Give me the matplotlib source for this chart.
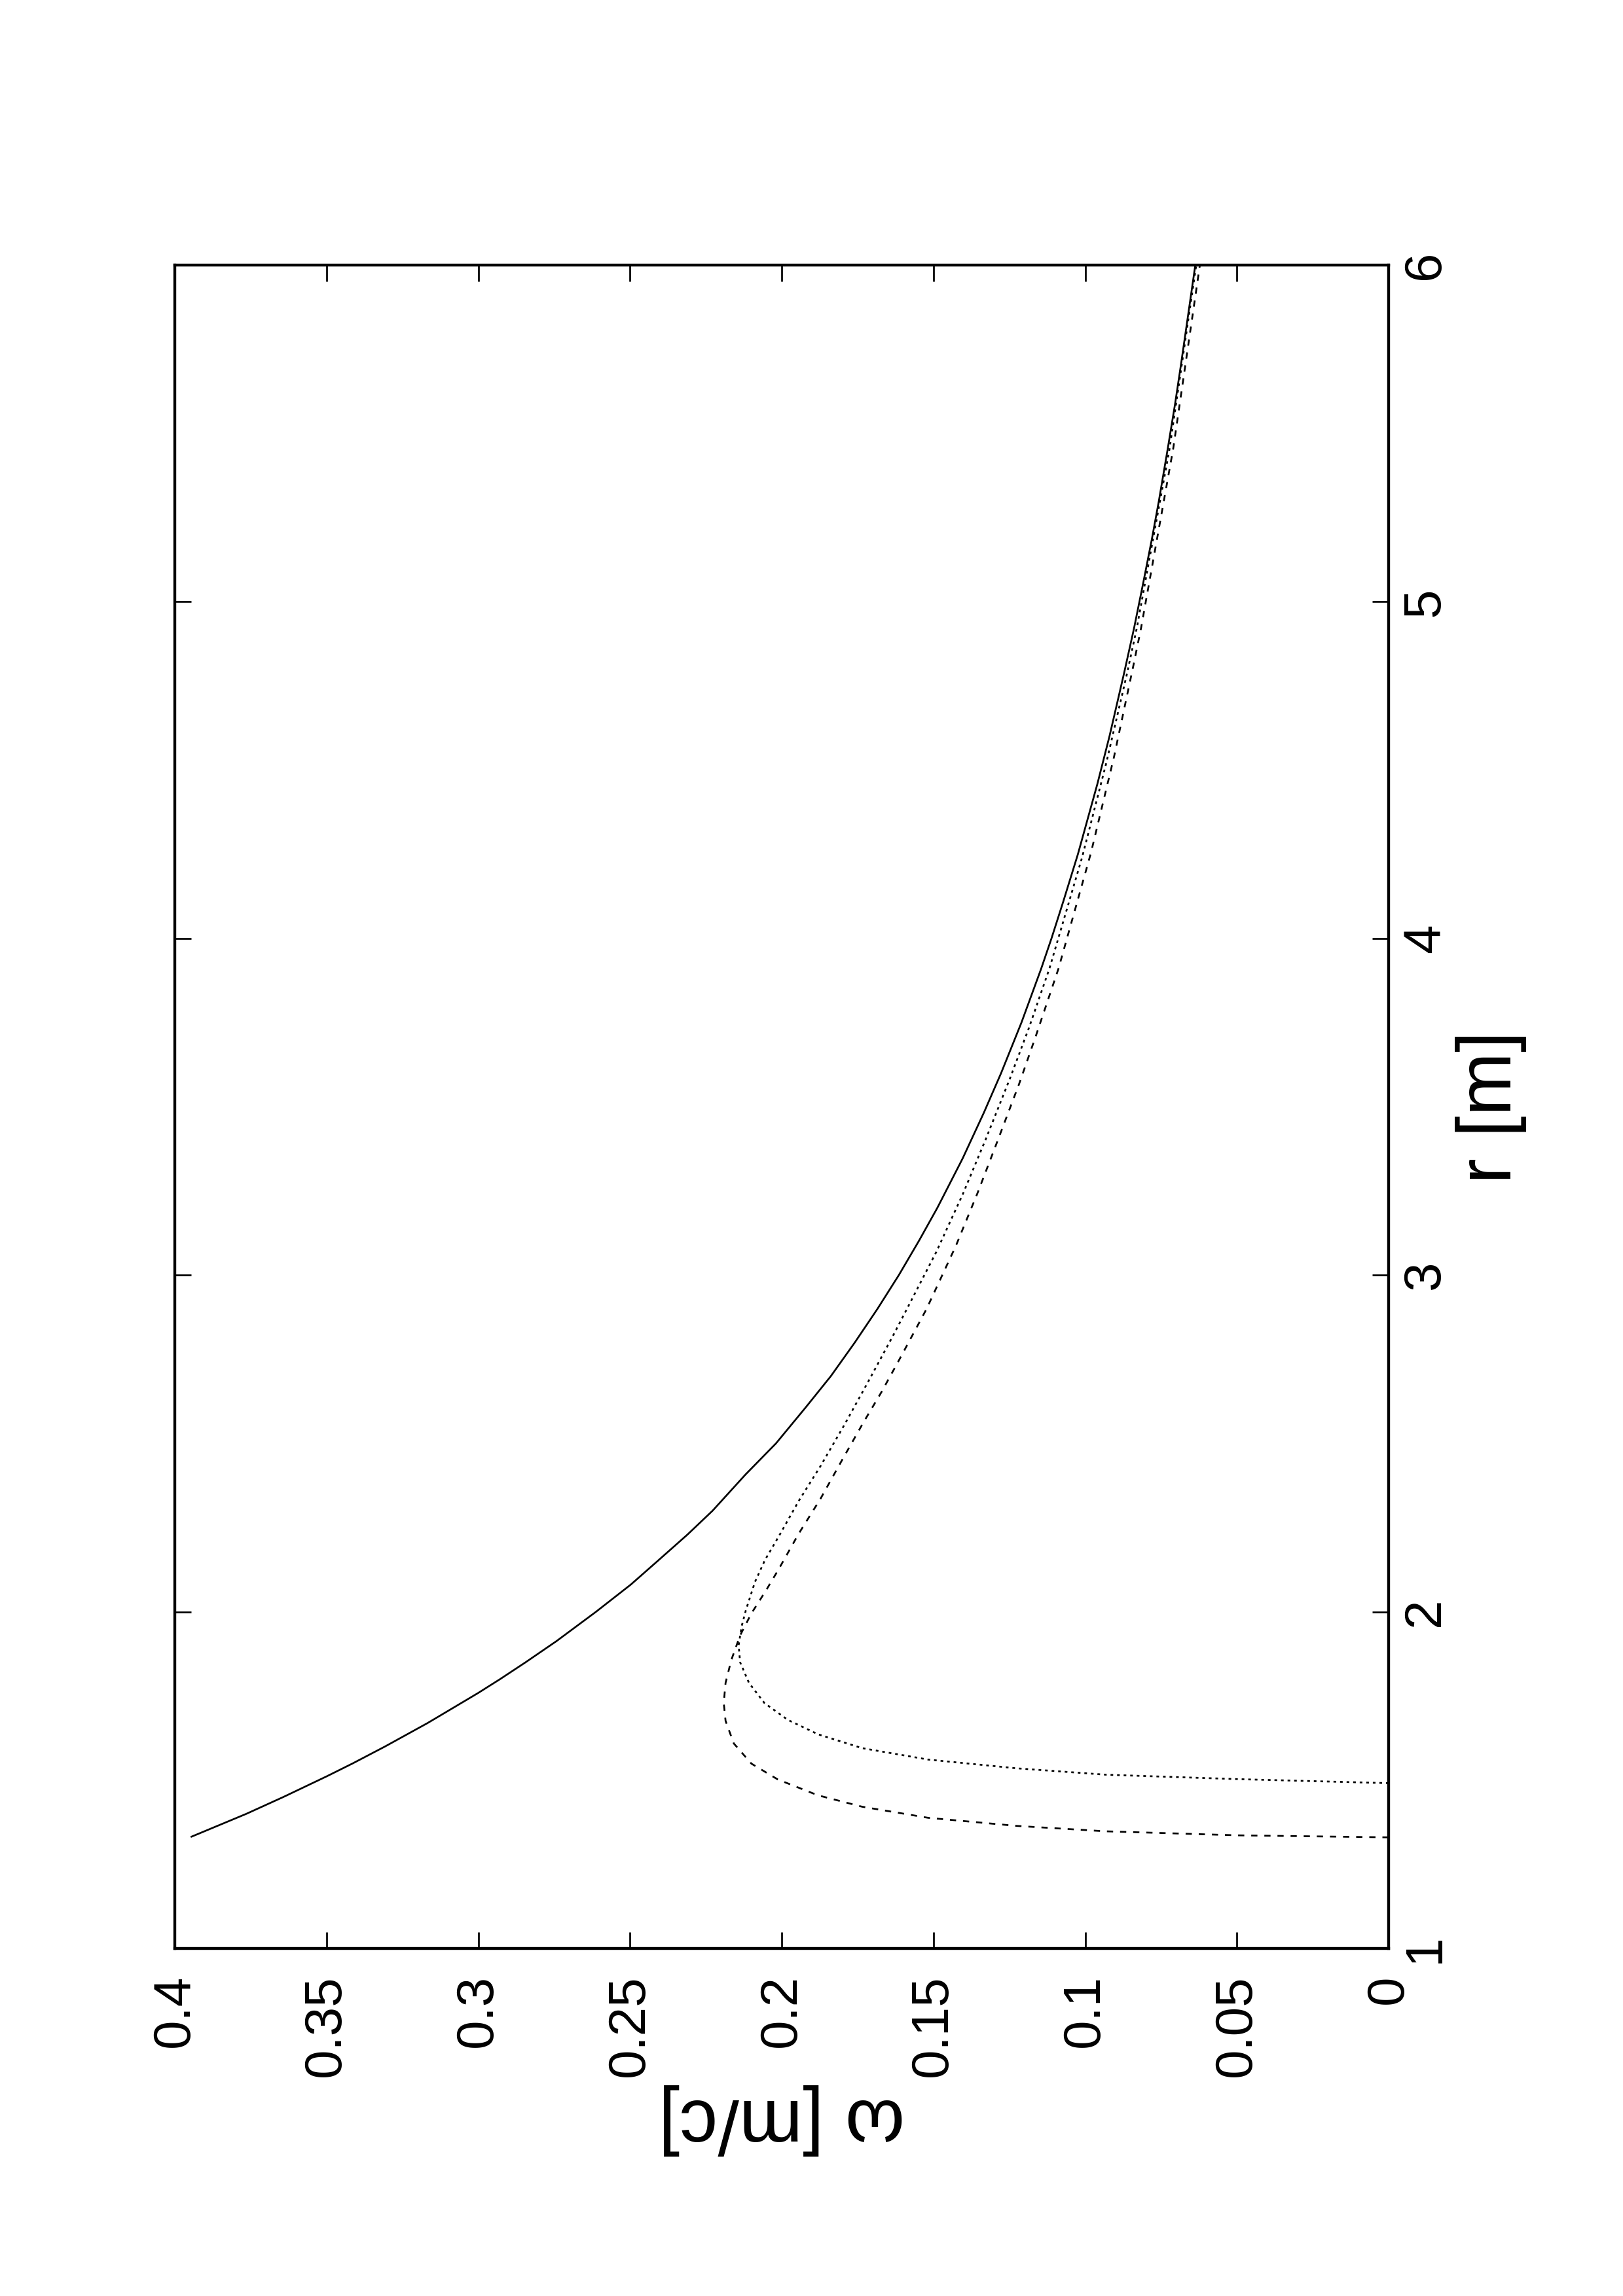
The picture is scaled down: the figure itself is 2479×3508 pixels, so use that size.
import matplotlib
matplotlib.use("Agg")
import matplotlib.pyplot as plt

plt.rcParams['font.family'] = ['Liberation Sans', 'DejaVu Sans']

# ---- data (r in m, omega in m/c) ----
r_solid = [1.332, 1.40, 1.45, 1.511, 1.55, 1.60, 1.669, 1.70, 1.759, 1.80, 1.85, 1.913,
           2.0, 2.081, 2.15, 2.229, 2.30, 2.408, 2.5, 2.607, 2.70, 2.80, 2.899, 3.0,
           3.103, 3.2, 3.346, 3.482, 3.60, 3.75, 3.910, 4.0, 4.110, 4.25, 4.458, 4.6,
           4.787, 4.921, 5.05, 5.187, 5.3, 5.454, 5.586, 5.7, 5.85, 6.0]
omega_solid = [0.3945, 0.3764, 0.3642, 0.350, 0.3413, 0.3307, 0.3168, 0.311, 0.300, 0.2928, 0.2844, 0.2742,
               0.2612, 0.2497, 0.2410, 0.2311, 0.2228, 0.2119, 0.2019, 0.1921, 0.1838, 0.1759, 0.1685, 0.1614,
               0.1547, 0.1487, 0.1404, 0.1334, 0.1277, 0.1210, 0.1145, 0.1111, 0.1072, 0.1024, 0.0960, 0.0920,
               0.0872, 0.0839, 0.0810, 0.0780, 0.0757, 0.0728, 0.0704, 0.0685, 0.0661, 0.0637]

r_dotted = [1.491, 1.497, 1.503, 1.516, 1.535, 1.561, 1.595, 1.636, 1.679, 1.729, 1.789,
            1.850, 1.900, 1.957, 2.005, 2.089, 2.154, 2.225, 2.329, 2.433, 2.556, 2.685,
            2.822, 2.909, 3.068, 3.243, 3.405, 3.586, 3.735, 3.910, 4.241, 4.519, 4.779,
            4.921, 5.454, 6.0]
omega_dotted = [0.0, 0.025, 0.050, 0.093, 0.1225, 0.1517, 0.1735, 0.188, 0.198, 0.2057, 0.2108,
                0.2137, 0.2142, 0.2132, 0.2118, 0.2088, 0.2055, 0.2009, 0.1944, 0.1872, 0.1793, 0.1714,
                0.1632, 0.1582, 0.1491, 0.1402, 0.1327, 0.1247, 0.1185, 0.1118, 0.1010, 0.0931, 0.0864,
                0.0830, 0.0722, 0.0634]

r_dashed = [1.330, 1.336, 1.348, 1.364, 1.388, 1.421, 1.455, 1.502, 1.549, 1.609, 1.676,
            1.729, 1.789, 1.857, 1.930, 1.995, 2.063, 2.128, 2.232, 2.336, 2.446, 2.562,
            2.653, 2.763, 2.899, 3.087, 3.243, 3.398, 3.567, 3.709, 3.910, 4.254, 4.539,
            4.811, 4.921, 5.454, 6.0]
omega_dashed = [0.0, 0.0496, 0.0933, 0.1225, 0.1517, 0.1735, 0.1881, 0.2013, 0.2100, 0.2158, 0.2185,
                0.2191, 0.2185, 0.2166, 0.2137, 0.2100, 0.2052, 0.2009, 0.1944, 0.1872, 0.1804, 0.1731,
                0.1671, 0.1604, 0.1523, 0.1426, 0.1355, 0.1289, 0.1218, 0.1163, 0.1088, 0.0981, 0.0905,
                0.0841, 0.0816, 0.0710, 0.0622]

omega_ticks = [0, 0.05, 0.1, 0.15, 0.2, 0.25, 0.3, 0.35, 0.4]
omega_tick_labels = ["0", "0.05", "0.1", "0.15", "0.2", "0.25", "0.3", "0.35", "0.4"]
r_ticks = [1, 2, 3, 4, 5, 6]
r_tick_labels = ["1", "2", "3", "4", "5", "6"]

W, H = 2479, 3508
fig = plt.figure(figsize=(W / 300, H / 300), dpi=300)
x0, x1, y0, y1 = 267, 2121, 405, 2977
ax = fig.add_axes([x0 / W, 1 - y1 / H, (x1 - x0) / W, (y1 - y0) / H])

lw = 0.65
ax.plot(omega_solid, r_solid, color='black', lw=lw, solid_joinstyle='round')
ax.plot(omega_dotted, r_dotted, color='black', lw=lw, dashes=(1.5, 2.2))
ax.plot(omega_dashed, r_dashed, color='black', lw=lw, dashes=(3.5, 3.9))

ax.set_xlim(0.4, 0.0)
ax.set_ylim(1, 6)

for s in ax.spines.values():
    s.set_linewidth(1.05)

ax.set_xticks(omega_ticks, omega_tick_labels, rotation=90, ha='center', va='top')
ax.set_yticks(r_ticks, r_tick_labels, rotation=90, ha='left', va='center')
ax.tick_params(axis='both', which='major', direction='in', length=6, width=0.65,
               top=True, bottom=True, left=True, right=True, labelsize=19.2)
ax.tick_params(axis='x', pad=9.6, labelbottom=True, labeltop=False)
ax.tick_params(axis='y', pad=4.6, labelleft=False, labelright=True)

ax.set_xlabel('ω [m/c]', fontsize=28, rotation=180, ha='center', va='center')
ax.xaxis.set_label_coords(0.5, (y1 - 3238) / (y1 - y0))
ax.yaxis.set_label_position('right')
ax.set_ylabel('r [m]', fontsize=28, rotation=90, ha='center', va='center')
ax.yaxis.set_label_coords((2277 - x0) / (x1 - x0), 0.5)

fig.savefig('out.png', dpi=300, facecolor='white')
